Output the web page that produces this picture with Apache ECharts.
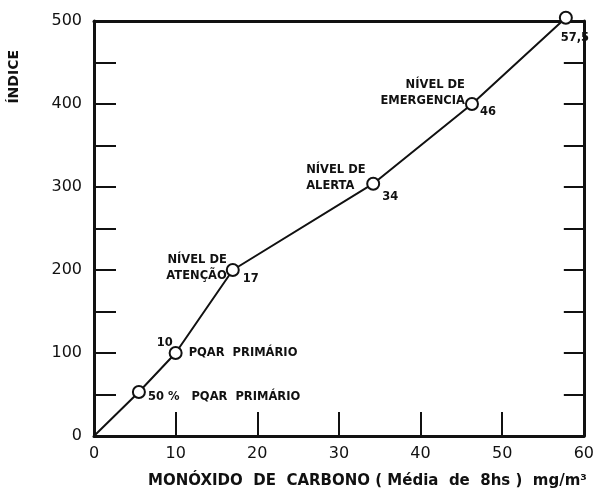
<!DOCTYPE html>
<html><head><meta charset="utf-8">
<script src="https://cdn.jsdelivr.net/npm/echarts@6/dist/echarts.min.js"></script>
<style>html,body{margin:0;padding:0;background:#fff}#c{width:597px;height:495px}</style>
</head><body><div id="c"></div>
<script>
// Data
var coValues = [0, 5.5, 10, 17, 34.2, 46.3, 57.8];
var indexValues = [0, 53, 100, 200, 304, 400, 504];
var xTicks = [0, 10, 20, 30, 40, 50, 60];
var yTicks = [0, 100, 200, 300, 400, 500];
var pointNumbers = ['', '', '10', '17', '34', '46', '57,5'];
var pointTexts = ['', '50 %   PQAR  PRIMÁRIO', 'PQAR  PRIMÁRIO', 'NÍVEL DE\nATENÇÃO', 'NÍVEL DE\nALERTA', 'NÍVEL DE\nEMERGENCIA', ''];

var FONT = 'DejaVu Sans';
var ink = '#111';

var chart = echarts.init(document.getElementById('c'), null, {renderer: 'canvas'});

var numPos = [null, null, {position: 'left', offset: [2, -10]}, {position: 'right', offset: [5, 9]}, {position: 'right', offset: [4, 13]}, {position: 'right', offset: [3, 8]}, {position: 'bottom', offset: [9, 7]}];
var txtPos = [null, {position: 'right', offset: [4, 5], align: 'left'}, {position: 'right', offset: [8, 0], align: 'left'}, {position: 'left', offset: [-1, -2], align: 'right'}, {position: 'left', offset: [-62, -6], align: 'left'}, {position: 'left', offset: [-2, -11], align: 'right'}, null];

var lineData = coValues.map(function (x, i) {
  return {value: [x, indexValues[i]], symbol: i === 0 ? 'none' : 'circle'};
});
var numData = coValues.map(function (x, i) {
  var p = numPos[i];
  return {value: [x, indexValues[i]], label: p ? {show: true, formatter: pointNumbers[i], position: p.position, offset: p.offset} : {show: false}};
});
var txtData = coValues.map(function (x, i) {
  var p = txtPos[i];
  return {value: [x, indexValues[i]], label: p ? {show: true, formatter: pointTexts[i], position: p.position, offset: p.offset, align: p.align} : {show: false}};
});

var labelStyle = {fontFamily: FONT, fontWeight: 'bold', fontSize: 11.5, color: ink, lineHeight: 16};

chart.setOption({
  animation: false,
  grid: {left: 94, right: 9, top: 21, bottom: 59},
  xAxis: [{
    type: 'value', min: 0, max: 60, interval: 10,
    axisLine: {show: true, onZero: false, lineStyle: {color: ink, width: 3}},
    axisTick: {show: true, inside: true, length: 24, lineStyle: {color: ink, width: 2}},
    axisLabel: {margin: 10, fontFamily: FONT, fontSize: 16, color: ink,
      formatter: function (v) { return xTicks.indexOf(v) >= 0 ? String(v) : ''; }},
    splitLine: {show: false}
  }, {
    type: 'value', position: 'top', min: 0, max: 60,
    axisLine: {show: true, onZero: false, lineStyle: {color: ink, width: 3}},
    axisTick: {show: false}, axisLabel: {show: false}, splitLine: {show: false}
  }],
  yAxis: [{
    type: 'value', min: 0, max: 500, interval: 50,
    axisLine: {show: true, onZero: false, lineStyle: {color: ink, width: 3}},
    axisTick: {show: true, inside: true, length: 22, lineStyle: {color: ink, width: 2}},
    axisLabel: {margin: 12, fontFamily: FONT, fontSize: 16, color: ink,
      formatter: function (v) { return yTicks.indexOf(v) >= 0 ? String(v) : ''; }},
    splitLine: {show: false}
  }, {
    type: 'value', position: 'right', min: 0, max: 500, interval: 50,
    axisLine: {show: true, onZero: false, lineStyle: {color: ink, width: 3}},
    axisTick: {show: true, inside: true, length: 20, lineStyle: {color: ink, width: 2}},
    axisLabel: {show: false}, splitLine: {show: false}
  }],
  series: [{
    type: 'line', data: lineData, symbolSize: 12, clip: false,
    lineStyle: {color: ink, width: 2},
    itemStyle: {color: '#fff', borderColor: ink, borderWidth: 2},
    z: 5
  }, {
    type: 'scatter', data: numData, symbolSize: 0, clip: false, itemStyle: {opacity: 1}, label: labelStyle, z: 6, silent: true
  }, {
    type: 'scatter', data: txtData, symbolSize: 0, clip: false, itemStyle: {opacity: 1}, label: labelStyle, z: 6, silent: true
  }],
  graphic: [{
    type: 'text', left: 7, top: 50, rotation: Math.PI / 2,
    style: {text: 'ÍNDICE', font: 'bold 14px "DejaVu Sans"', fill: ink}
  }, {
    type: 'text', left: 148, top: 474,
    style: {text: 'MONÓXIDO  DE  CARBONO ( Média  de  8hs )  mg/m³', font: 'bold 15px "DejaVu Sans"', fill: ink}
  }]
});
</script>
</body></html>
